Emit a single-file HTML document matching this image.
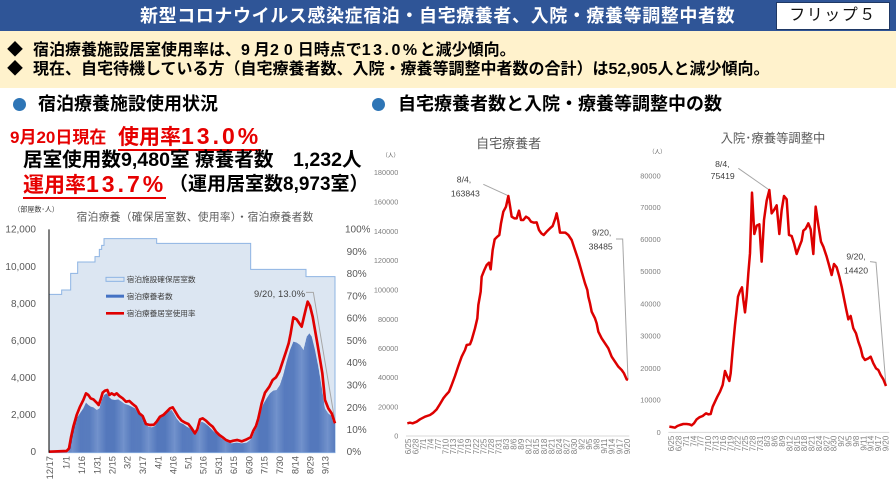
<!DOCTYPE html>
<html><head><meta charset="utf-8">
<style>
body{margin:0;width:896px;height:504px;position:relative;overflow:hidden;background:#fff;font-family:"Liberation Sans","Noto Sans CJK JP",sans-serif;}
.a{position:absolute;white-space:nowrap;}
</style></head><body>
<div class="a" style="left:0;top:0;width:896px;height:31px;background:#2F5597;"></div>
<div class="a" style="left:140px;top:3px;height:26px;line-height:26px;font-size:18px;font-weight:bold;color:#fff;letter-spacing:0.6px;">新型コロナウイルス感染症宿泊・自宅療養者、入院・療養等調整中者数</div>
<div class="a" style="left:776px;top:2px;width:112px;height:26px;background:#fff;border:1px solid #1F3864;"></div>
<div class="a" style="left:776px;top:3px;width:114px;height:26px;line-height:26px;text-align:center;font-size:16px;color:#111;letter-spacing:1.5px;">フリップ５</div>
<div class="a" style="left:0;top:31px;width:896px;height:57px;background:#FFF2CC;"></div>
<div class="a" style="left:7px;top:41px;height:20px;line-height:20px;font-size:16px;font-weight:bold;color:#000;">◆</div>
<div class="a" style="left:33px;top:41px;height:20px;line-height:20px;font-size:16px;font-weight:bold;color:#000;">宿泊療養施設居室使用率は、<span style="letter-spacing:4px;">9</span>月<span style="letter-spacing:5px;">20</span>日時点で<span style="letter-spacing:2.5px;">13.0%</span>と減少傾向。</div>
<div class="a" style="left:7px;top:60px;height:20px;line-height:20px;font-size:16px;font-weight:bold;color:#000;">◆</div>
<div class="a" style="left:33px;top:60px;height:20px;line-height:20px;font-size:16px;font-weight:bold;color:#000;">現在、自宅待機している方（自宅療養者数、入院・療養等調整中者数の合計）は52,905人と減少傾向。</div>

<div class="a" style="left:13px;top:98px;width:13px;height:13px;border-radius:50%;background:#2E75B6;"></div>
<div class="a" style="left:38px;top:93px;height:22px;line-height:22px;font-size:18px;font-weight:bold;color:#000;">宿泊療養施設使用状況</div>
<div class="a" style="left:372px;top:98px;width:13px;height:13px;border-radius:50%;background:#2E75B6;"></div>
<div class="a" style="left:398px;top:93px;height:22px;line-height:22px;font-size:18px;font-weight:bold;color:#000;">自宅療養者数と入院・療養等調整中の数</div>

<div class="a" style="left:10px;top:127px;height:22px;line-height:22px;font-size:17px;font-weight:bold;color:#E60000;">9月20日現在</div>
<div class="a" style="left:118px;top:123px;height:26px;line-height:26px;font-size:21px;font-weight:bold;color:#E60000;border-bottom:2px solid #E60000;">使用率<span style="font-size:23px;letter-spacing:3px;">13.0%</span></div>
<div class="a" style="left:23px;top:148px;height:24px;line-height:24px;font-size:19.6px;font-weight:bold;color:#000;">居室使用数9,480室 療養者数　1,232人</div>
<div class="a" style="left:23px;top:171px;height:26px;line-height:26px;font-size:21px;font-weight:bold;color:#E60000;border-bottom:2px solid #E60000;">運用率<span style="font-size:23px;letter-spacing:3px;">13.7%</span></div>
<div class="a" style="left:169px;top:173px;height:24px;line-height:24px;font-size:19px;font-weight:bold;color:#000;">（運用居室数8,973室）</div>

<!-- Left chart -->
<svg class="a" style="left:0;top:200px" width="370" height="304" viewBox="0 0 1110 912" font-family="Liberation Sans, Noto Sans CJK JP, sans-serif">
<defs><pattern id="bars" x="0" y="0" width="3.06" height="10" patternUnits="userSpaceOnUse"><rect width="3.06" height="10" fill="#A9C1E8"/><rect width="2" height="10" fill="#3860AE"/></pattern></defs>
<text x="40" y="30" font-size="21" fill="#404040" dominant-baseline="central">（部屋数･人）</text>
<text x="585" y="52" font-size="32" fill="#595959" text-anchor="middle" dominant-baseline="central" textLength="710">宿泊療養（確保居室数、使用率）・宿泊療養者数</text>
<polygon points="147,283 185,283 185,270 212,270 212,220 233,220 233,186 285,186 285,170 298,170 298,148 305,148 305,136 312,136 312,116 470,116 470,130 752,130 752,208 918,208 918,230 1005,230 1005,758 147,758" fill="#DCE6F2" stroke="#8EB4E3" stroke-width="3"/>
<polygon fill="url(#bars)" points="205,757 212,720 218,690 225,668 232,652 240,640 250,625 258,608 265,615 272,620 280,622 290,630 298,625 305,600 312,585 320,580 328,592 335,598 345,600 355,598 365,605 375,612 385,615 395,620 405,625 415,640 425,650 435,670 445,680 455,682 465,678 475,660 485,648 495,640 505,633 515,630 522,640 530,655 540,668 550,672 560,680 570,685 580,695 590,698 598,670 605,665 615,670 625,678 635,688 645,698 655,705 665,715 675,720 685,725 695,730 710,728 725,730 740,728 750,720 760,700 770,680 780,640 790,612 800,595 810,580 820,572 830,570 840,555 850,525 860,485 870,450 880,425 890,428 900,435 910,450 915,430 920,410 928,400 935,410 945,450 955,500 965,560 975,625 985,640 995,648 1005,655 1005,757"/>
<polyline fill="none" stroke="#A6A6A6" stroke-width="3" points="918,277 940,277 1005,665"/>
<polyline fill="none" stroke="#E00000" stroke-width="8" stroke-linejoin="round" points="147,755 200,753 207,745 213,712 220,680 230,645 240,620 250,600 258,580 265,585 272,595 280,598 290,608 296,615 302,598 308,578 315,572 322,570 328,585 335,580 343,585 350,580 358,588 368,595 378,605 388,603 398,612 408,620 418,640 428,648 438,672 450,675 462,674 470,665 480,650 490,645 500,635 510,625 518,622 526,635 535,650 545,662 555,668 565,672 575,685 585,700 592,688 600,658 608,655 618,662 628,672 638,680 648,695 658,705 668,712 678,720 690,725 700,722 712,720 725,724 740,718 752,712 760,692 768,678 775,655 785,610 795,578 808,560 818,540 828,532 838,515 848,485 858,455 866,430 872,400 880,352 890,358 898,370 905,380 912,350 918,325 923,305 930,318 938,350 945,390 952,430 960,478 967,520 975,600 985,625 995,640 1005,670"/>
<line x1="147" y1="88" x2="147" y2="758" stroke="#000" stroke-width="3"/>
<g font-size="30" fill="#595959" text-anchor="end" dominant-baseline="central">
<text x="108" y="90">12,000</text><text x="108" y="202">10,000</text><text x="108" y="313">8,000</text><text x="108" y="424">6,000</text><text x="108" y="536">4,000</text><text x="108" y="647">2,000</text><text x="108" y="758">0</text>
</g>
<g font-size="30" fill="#595959" dominant-baseline="central">
<text x="1035" y="90">100%</text><text x="1040" y="157">90%</text><text x="1040" y="224">80%</text><text x="1040" y="291">70%</text><text x="1040" y="357">60%</text><text x="1040" y="424">50%</text><text x="1040" y="491">40%</text><text x="1040" y="558">30%</text><text x="1040" y="625">20%</text><text x="1040" y="692">10%</text><text x="1040" y="758">0%</text>
</g>
<g font-size="28" fill="#595959" text-anchor="end" dominant-baseline="central">
<text transform="translate(150,768) rotate(-90)">12/17</text>
<text transform="translate(200,768) rotate(-90)">1/1</text>
<text transform="translate(246,768) rotate(-90)">1/16</text>
<text transform="translate(292,768) rotate(-90)">1/31</text>
<text transform="translate(338,768) rotate(-90)">2/15</text>
<text transform="translate(383,768) rotate(-90)">3/2</text>
<text transform="translate(429,768) rotate(-90)">3/17</text>
<text transform="translate(475,768) rotate(-90)">4/1</text>
<text transform="translate(520,768) rotate(-90)">4/16</text>
<text transform="translate(566,768) rotate(-90)">5/1</text>
<text transform="translate(611,768) rotate(-90)">5/16</text>
<text transform="translate(657,768) rotate(-90)">5/31</text>
<text transform="translate(702,768) rotate(-90)">6/15</text>
<text transform="translate(748,768) rotate(-90)">6/30</text>
<text transform="translate(794,768) rotate(-90)">7/15</text>
<text transform="translate(840,768) rotate(-90)">7/30</text>
<text transform="translate(886,768) rotate(-90)">8/14</text>
<text transform="translate(932,768) rotate(-90)">8/29</text>
<text transform="translate(977,768) rotate(-90)">9/13</text>
</g>
<rect x="318" y="232" width="54" height="12" fill="#DCE6F2" stroke="#8EB4E3" stroke-width="3"/>
<rect x="318" y="284" width="54" height="9" fill="#4472C4"/>
<line x1="318" y1="340" x2="372" y2="340" stroke="#E00000" stroke-width="8"/>
<g font-size="23" fill="#404040" dominant-baseline="central">
<text x="380" y="238">宿泊施設確保居室数</text><text x="380" y="289">宿泊療養者数</text><text x="380" y="340">宿泊療養居室使用率</text>
</g>
<text x="762" y="282" font-size="28" fill="#404040" dominant-baseline="central" textLength="153">9/20, 13.0%</text>
</svg>

<!-- Middle chart -->
<svg class="a" style="left:370px;top:90px" width="270" height="414" viewBox="0 0 810 1242" font-family="Liberation Sans, Noto Sans CJK JP, sans-serif">
<text x="416" y="160" font-size="39" fill="#595959" text-anchor="middle" dominant-baseline="central">自宅療養者</text>
<text x="62" y="198" font-size="17" fill="#595959" text-anchor="middle" dominant-baseline="central">（人）</text>
<g font-size="22" fill="#7F7F7F" text-anchor="end" dominant-baseline="central">
<text x="85" y="248">180000</text><text x="85" y="336">160000</text><text x="85" y="424">140000</text><text x="85" y="512">120000</text><text x="85" y="600">100000</text><text x="85" y="688">80000</text><text x="85" y="775">60000</text><text x="85" y="863">40000</text><text x="85" y="951">20000</text><text x="85" y="1038">0</text>
</g>
<line x1="108" y1="1038" x2="778" y2="1038" stroke="#D9D9D9" stroke-width="3"/>
<g font-size="24" fill="#7F7F7F" text-anchor="end" dominant-baseline="central">
<text transform="translate(115,1046) rotate(-90)">6/25</text>
<text transform="translate(137.7,1046) rotate(-90)">6/28</text>
<text transform="translate(160.3,1046) rotate(-90)">7/1</text>
<text transform="translate(183,1046) rotate(-90)">7/4</text>
<text transform="translate(205.6,1046) rotate(-90)">7/7</text>
<text transform="translate(228.3,1046) rotate(-90)">7/10</text>
<text transform="translate(250.9,1046) rotate(-90)">7/13</text>
<text transform="translate(273.6,1046) rotate(-90)">7/16</text>
<text transform="translate(296.2,1046) rotate(-90)">7/19</text>
<text transform="translate(318.9,1046) rotate(-90)">7/22</text>
<text transform="translate(341.6,1046) rotate(-90)">7/25</text>
<text transform="translate(364.2,1046) rotate(-90)">7/28</text>
<text transform="translate(386.9,1046) rotate(-90)">7/31</text>
<text transform="translate(409.5,1046) rotate(-90)">8/3</text>
<text transform="translate(432.2,1046) rotate(-90)">8/6</text>
<text transform="translate(454.8,1046) rotate(-90)">8/9</text>
<text transform="translate(477.5,1046) rotate(-90)">8/12</text>
<text transform="translate(500.1,1046) rotate(-90)">8/15</text>
<text transform="translate(522.8,1046) rotate(-90)">8/18</text>
<text transform="translate(545.4,1046) rotate(-90)">8/21</text>
<text transform="translate(568.1,1046) rotate(-90)">8/24</text>
<text transform="translate(590.8,1046) rotate(-90)">8/27</text>
<text transform="translate(613.4,1046) rotate(-90)">8/30</text>
<text transform="translate(636.1,1046) rotate(-90)">9/2</text>
<text transform="translate(658.7,1046) rotate(-90)">9/5</text>
<text transform="translate(681.4,1046) rotate(-90)">9/8</text>
<text transform="translate(704,1046) rotate(-90)">9/11</text>
<text transform="translate(726.7,1046) rotate(-90)">9/14</text>
<text transform="translate(749.3,1046) rotate(-90)">9/17</text>
<text transform="translate(772,1046) rotate(-90)">9/20</text>
</g>
<polyline fill="none" stroke="#A6A6A6" stroke-width="3" points="340,283 412,316"/>
<polyline fill="none" stroke="#A6A6A6" stroke-width="3" points="738,447 758,447 774,868"/>
<polyline fill="none" stroke="#DD0000" stroke-width="7.5" stroke-linejoin="round" points="112,1000 120,998 128,1000 140,995 150,988 165,980 180,975 190,968 200,958 210,942 220,925 228,915 237,905 245,885 255,858 265,828 275,800 285,780 290,765 300,763 305,750 315,715 322,685 325,645 332,605 335,560 343,540 350,525 357,518 362,538 368,480 374,448 382,440 388,435 393,400 400,365 408,350 415,318 420,348 425,380 433,385 440,385 447,362 453,390 460,390 468,380 476,385 483,395 492,398 500,397 507,420 514,430 521,435 530,425 540,415 548,408 556,385 560,370 565,395 570,428 578,428 586,428 595,435 605,450 615,480 625,510 635,545 645,580 652,600 655,620 660,640 665,665 675,685 680,700 685,725 695,745 705,760 715,775 725,800 735,815 745,830 755,840 762,850 770,868 774,870"/>
<g font-size="26" fill="#404040" text-anchor="middle" dominant-baseline="central">
<text x="282" y="268">8/4,</text><text x="286" y="310">163843</text>
<text x="695" y="428">9/20,</text><text x="692" y="470">38485</text>
</g>
</svg>

<!-- Right chart -->
<svg class="a" style="left:640px;top:110px" width="256" height="394" viewBox="0 0 768 1182" font-family="Liberation Sans, Noto Sans CJK JP, sans-serif">
<text x="399" y="85" font-size="37" fill="#595959" text-anchor="middle" dominant-baseline="central">入院･療養等調整中</text>
<text x="52" y="128" font-size="17" fill="#595959" text-anchor="middle" dominant-baseline="central">（人）</text>
<g font-size="22" fill="#7F7F7F" text-anchor="end" dominant-baseline="central">
<text x="62" y="198">80000</text><text x="62" y="293">70000</text><text x="62" y="388">60000</text><text x="62" y="485">50000</text><text x="62" y="582">40000</text><text x="62" y="678">30000</text><text x="62" y="775">20000</text><text x="62" y="870">10000</text><text x="62" y="967">0</text>
</g>
<line x1="85" y1="967" x2="748" y2="967" stroke="#D9D9D9" stroke-width="3"/>
<g font-size="24" fill="#7F7F7F" text-anchor="end" dominant-baseline="central">
<text transform="translate(95,977) rotate(-90)">6/25</text>
<text transform="translate(117.2,977) rotate(-90)">6/28</text>
<text transform="translate(139.3,977) rotate(-90)">7/1</text>
<text transform="translate(161.5,977) rotate(-90)">7/4</text>
<text transform="translate(183.7,977) rotate(-90)">7/7</text>
<text transform="translate(205.9,977) rotate(-90)">7/10</text>
<text transform="translate(228,977) rotate(-90)">7/13</text>
<text transform="translate(250.2,977) rotate(-90)">7/16</text>
<text transform="translate(272.4,977) rotate(-90)">7/19</text>
<text transform="translate(294.5,977) rotate(-90)">7/22</text>
<text transform="translate(316.7,977) rotate(-90)">7/25</text>
<text transform="translate(338.9,977) rotate(-90)">7/28</text>
<text transform="translate(361,977) rotate(-90)">7/31</text>
<text transform="translate(383.2,977) rotate(-90)">8/3</text>
<text transform="translate(405.4,977) rotate(-90)">8/6</text>
<text transform="translate(427.6,977) rotate(-90)">8/9</text>
<text transform="translate(449.7,977) rotate(-90)">8/12</text>
<text transform="translate(471.9,977) rotate(-90)">8/15</text>
<text transform="translate(494.1,977) rotate(-90)">8/18</text>
<text transform="translate(516.2,977) rotate(-90)">8/21</text>
<text transform="translate(538.4,977) rotate(-90)">8/24</text>
<text transform="translate(560.6,977) rotate(-90)">8/27</text>
<text transform="translate(582.7,977) rotate(-90)">8/30</text>
<text transform="translate(604.9,977) rotate(-90)">9/2</text>
<text transform="translate(627.1,977) rotate(-90)">9/5</text>
<text transform="translate(649.3,977) rotate(-90)">9/8</text>
<text transform="translate(671.4,977) rotate(-90)">9/11</text>
<text transform="translate(693.6,977) rotate(-90)">9/14</text>
<text transform="translate(715.8,977) rotate(-90)">9/17</text>
<text transform="translate(738,977) rotate(-90)">9/20</text>
</g>
<polyline fill="none" stroke="#A6A6A6" stroke-width="3" points="295,175 388,240"/>
<polyline fill="none" stroke="#A6A6A6" stroke-width="3" points="690,455 708,457 738,828"/>
<polyline fill="none" stroke="#DD0000" stroke-width="7.5" stroke-linejoin="round" points="88,950 95,951 105,953 112,948 120,945 130,942 140,942 148,943 155,946 162,940 170,928 178,922 188,918 198,910 205,913 212,912 218,890 225,875 232,860 240,845 248,825 255,783 262,800 268,813 272,790 278,720 285,645 290,600 294,560 300,543 306,532 310,570 315,607 320,560 325,490 330,430 336,248 343,372 350,347 358,343 365,455 372,330 380,272 388,240 395,310 402,300 410,286 418,372 425,300 432,258 440,268 447,375 455,378 462,400 470,432 478,410 485,392 490,362 497,356 505,340 512,358 520,432 527,290 535,345 543,395 550,410 560,440 567,465 575,495 582,462 590,472 598,500 605,530 612,565 618,595 625,628 632,618 640,655 648,670 655,695 662,715 668,740 675,750 685,745 692,740 700,760 708,775 715,780 722,795 730,808 738,828"/>
<g font-size="26" fill="#404040" text-anchor="middle" dominant-baseline="central">
<text x="247" y="162">8/4,</text><text x="248" y="198">75419</text>
<text x="648" y="440">9/20,</text><text x="648" y="482">14420</text>
</g>
</svg>
</body></html>
